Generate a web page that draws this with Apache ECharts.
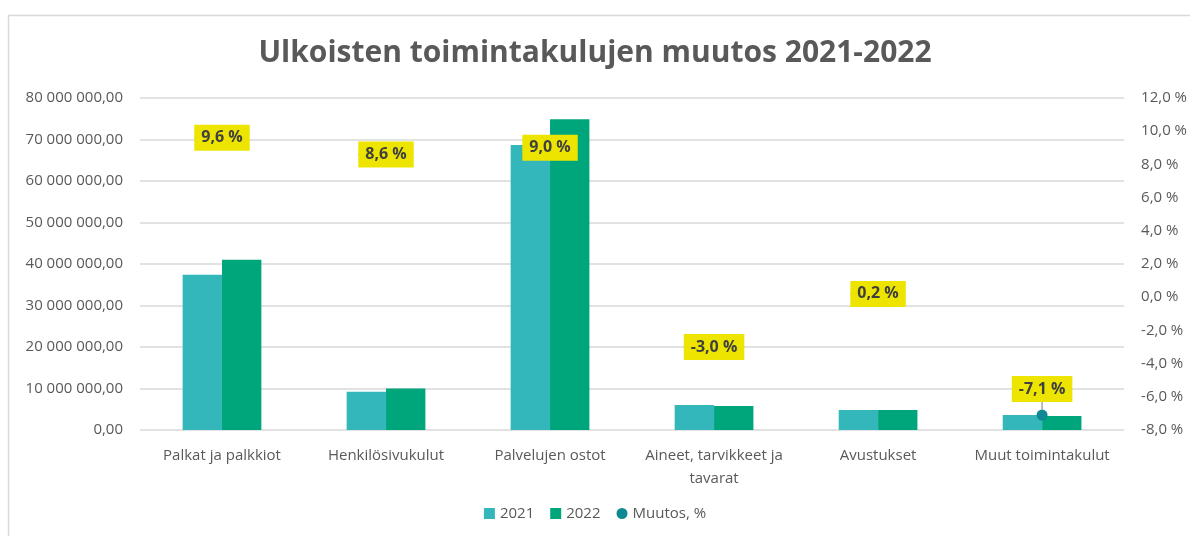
<!DOCTYPE html>
<html>
<head>
<meta charset="utf-8">
<script src="https://cdn.jsdelivr.net/npm/echarts@6/dist/echarts.min.js"></script>
<style>
html,body{margin:0;padding:0;background:#fff;}
#chart{width:1190px;height:536px;}
</style>
</head>
<body>
<div id="chart"></div>
<script>
// kategoriat ja arvot
var categories = ['Palkat ja palkkiot', 'Henkilösivukulut', 'Palvelujen ostot', 'Aineet, tarvikkeet ja\ntavarat', 'Avustukset', 'Muut toimintakulut'];
var values2021 = [37400000, 9200000, 68700000, 6000000, 4800000, 3600000];
var values2022 = [41000000, 10000000, 74900000, 5800000, 4810000, 3350000];
var muutos = [9.6, 8.6, 9.0, -3.0, 0.2, -7.1];

var txt = '#595959';
var font = '"Open Sans", sans-serif';

function fmtEur(v){
	var s = Math.round(v).toString().replace(/\B(?=(\d{3})+(?!\d))/g, ' ');
	return s + ',00';
}
function fmtPct(v){
	return v.toFixed(1).replace('.', ',') + ' %';
}

// pisteet: vain viimeinen näkyy, muut jäävät tarran alle
var muutosData = muutos.map(function(v, i){
	return {value: v, symbolSize: i === 5 ? 11 : 0};
});

var myChart = echarts.init(document.getElementById('chart'));
var option = {
	backgroundColor: '#fff',
	textStyle: {fontFamily: font},
	graphic: [{
		type: 'rect',
		shape: {x: 8.5, y: 15.5, width: 1300, height: 600},
		style: {fill: 'none', stroke: '#d9d9d9', lineWidth: 1.5},
		silent: true
	}],
	title: {
		text: 'Ulkoisten toimintakulujen muutos 2021-2022',
		left: 'center',
		top: 33,
		textStyle: {color: txt, fontSize: 30, fontWeight: 'bold', fontFamily: font}
	},
	legend: {
		bottom: 10,
		left: 'center',
		itemWidth: 11,
		itemHeight: 11,
		itemGap: 16,
		textStyle: {color: txt, fontSize: 15, fontFamily: font},
		data: [
			{name: '2021', icon: 'rect'},
			{name: '2022', icon: 'rect'},
			{name: 'Muutos, %', icon: 'circle'}
		]
	},
	grid: {left: 140, right: 64, top: 98, bottom: 106},
	xAxis: {
		type: 'category',
		data: categories,
		axisLine: {show: false},
		axisTick: {show: false},
		axisLabel: {color: txt, fontSize: 15, margin: 14, lineHeight: 23, interval: 0}
	},
	yAxis: [{
		type: 'value',
		min: 0, max: 80000000, interval: 10000000,
		axisLine: {show: false},
		axisTick: {show: false},
		splitLine: {lineStyle: {color: '#d9d9d9', width: 1.5}},
		axisLabel: {color: txt, fontSize: 15, margin: 17, formatter: fmtEur}
	}, {
		type: 'value',
		min: -8, max: 12, interval: 2,
		axisLine: {show: false},
		axisTick: {show: false},
		splitLine: {show: false},
		axisLabel: {color: txt, fontSize: 15, margin: 17, formatter: fmtPct}
	}],
	series: [{
		name: '2021',
		type: 'bar',
		data: values2021,
		barGap: 0,
		barCategoryGap: '52%',
		itemStyle: {color: '#33b7bb'}
	}, {
		name: '2022',
		type: 'bar',
		data: values2022,
		itemStyle: {color: '#00a67b'}
	}, {
		name: 'Muutos, %',
		type: 'scatter',
		yAxisIndex: 1,
		symbolSize: 11,
		z: 5,
		itemStyle: {color: '#0e8893', opacity: 1},
		data: muutosData,
		label: {
			show: true,
			position: 'inside',
			formatter: function(p){ return fmtPct(p.value); },
			backgroundColor: '#ede500',
			color: '#404040',
			fontWeight: 'bold',
			fontSize: 16,
			padding: [6, 7, 4, 7]
		},
		labelLine: {show: true, lineStyle: {color: '#a6a6a6', width: 1.5}},
		labelLayout: function(p){
			// viimeinen nostettu ylös
			if (p.dataIndex === 5) return {dy: -26};
			return {};
		}
	}]
};
myChart.setOption(option);
</script>
</body>
</html>
